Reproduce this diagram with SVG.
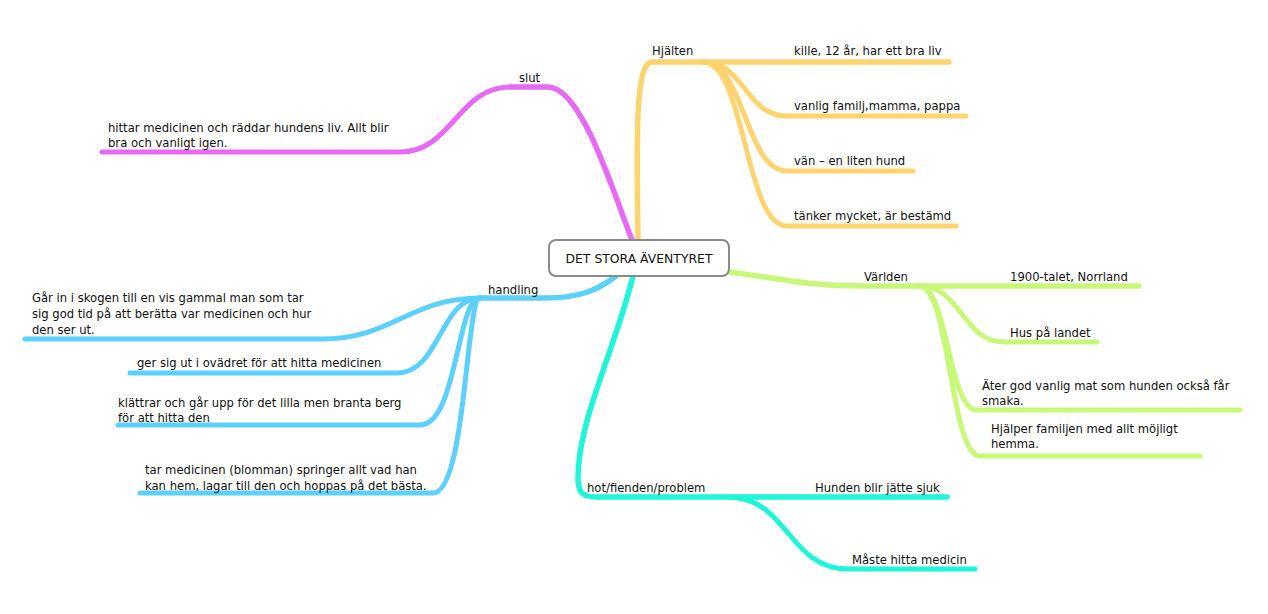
<svg xmlns="http://www.w3.org/2000/svg" width="1268" height="614" viewBox="0 0 1268 614">
<style>
text{font-family:"DejaVu Sans","Liberation Sans",sans-serif;font-size:11.6px;fill:#111}
.c{fill:none;stroke-width:5;stroke-linecap:round;stroke-linejoin:round}
.m{stroke-width:5.5}
.pk{stroke:#E66AF6}.or{stroke:#FFD46F}.bl{stroke:#5CD0FF}.gr{stroke:#C8F877}.cy{stroke:#1FF6D9}
.root rect{fill:#fff;stroke:#8a8a8a;stroke-width:2}
.root text{font-size:12.4px;text-anchor:middle}
</style>
<rect width="1268" height="614" fill="#fff"/>
<g id="connectors">
<path class="c m pk" d="M632,240 C614,195 582,87 548,87 L510,87"/>
<path class="c pk" d="M510,87 C458,87 452,152 400,152 L102,152"/>
<path class="c m or" d="M638,240 C637,150 634,62 652,62 L949,62"/>
<path class="c or" d="M703,62 C745,62 745,116 787,116 L966,116"/>
<path class="c or" d="M703,62 C745,62 745,171 787,171 L913,171"/>
<path class="c or" d="M703,62 C745,62 745,226 787,226 L956,226"/>
<path class="c m gr" d="M729,272 C790,280 810,286 865,286 L1139,286"/>
<path class="c gr" d="M919,286 C962,286 962,342 1004,342 L1097,342"/>
<path class="c gr" d="M919,286 C948,286 948,410 977,410 L1240,410"/>
<path class="c gr" d="M919,286 C950,286 950,456 980,456 L1200,456"/>
<path class="c m bl" d="M616,276 C598,290 580,298 545,298 L480,298"/>
<path class="c bl" d="M480,298 C410,298 392,339 322,339 L25,339"/>
<path class="c bl" d="M480,298 C440,298 440,373 397,373 L130,373"/>
<path class="c bl" d="M480,298 C457,298 457,425 420,425 L118,425"/>
<path class="c bl" d="M480,298 C466,298 466,493 433,493 L140,493"/>
<path class="c m cy" d="M633,276 C615,350 578,420 578,478 C578,492 582,497 596,497 L947,497"/>
<path class="c cy" d="M728,497 C788,497 788,569 848,569 L975,569"/>
</g>
<g id="root" class="root">
<rect x="549" y="240" width="180" height="36" rx="7"/>
<text x="639" y="263">DET STORA ÄVENTYRET</text>
</g>
<g id="slut"><text x="519" y="82">slut</text></g>
<g id="slut-1"><text x="108" y="132">hittar medicinen och räddar hundens liv. Allt blir</text><text x="108" y="147">bra och vanligt igen.</text></g>
<g id="hjalten"><text x="652" y="55">Hjälten</text></g>
<g id="hjalten-1"><text x="794" y="55">kille, 12 år, har ett bra liv</text></g>
<g id="hjalten-2"><text x="794" y="110">vanlig familj,mamma, pappa</text></g>
<g id="hjalten-3"><text x="794" y="165">vän – en liten hund</text></g>
<g id="hjalten-4"><text x="794" y="220">tänker mycket, är bestämd</text></g>
<g id="varlden"><text x="864" y="281">Världen</text></g>
<g id="varlden-1"><text x="1010" y="281">1900-talet, Norrland</text></g>
<g id="varlden-2"><text x="1010" y="337">Hus på landet</text></g>
<g id="varlden-3"><text x="982" y="390">Äter god vanlig mat som hunden också får</text><text x="982" y="405">smaka.</text></g>
<g id="varlden-4"><text x="991" y="433">Hjälper familjen med allt möjligt</text><text x="991" y="448">hemma.</text></g>
<g id="handling"><text x="488" y="294">handling</text></g>
<g id="handling-1"><text x="32" y="302">Går in i skogen till en vis gammal man som tar</text><text x="32" y="318">sig god tid på att berätta var medicinen och hur</text><text x="32" y="334">den ser ut.</text></g>
<g id="handling-2"><text x="137" y="367">ger sig ut i ovädret för att hitta medicinen</text></g>
<g id="handling-3"><text x="118" y="407">klättrar och går upp för det lilla men branta berg</text><text x="118" y="422">för att hitta den</text></g>
<g id="handling-4"><text x="145" y="474">tar medicinen (blomman) springer allt vad han</text><text x="145" y="490">kan hem, lagar till den och hoppas på det bästa.</text></g>
<g id="hot"><text x="587" y="492">hot/fienden/problem</text></g>
<g id="hot-1"><text x="815" y="492">Hunden blir jätte sjuk</text></g>
<g id="hot-2"><text x="852" y="564">Måste hitta medicin</text></g>
</svg>
